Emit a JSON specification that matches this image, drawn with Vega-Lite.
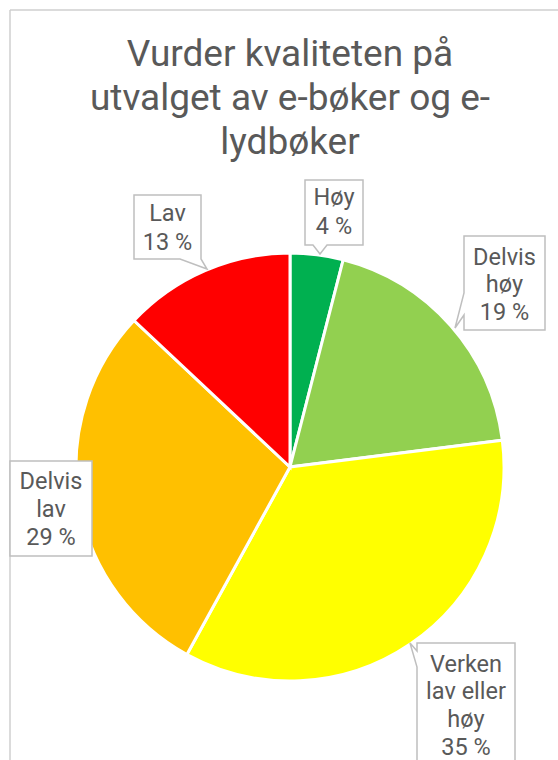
{
  "$schema": "https://vega.github.io/schema/vega-lite/v6.json",
  "autosize": "none",
  "width": 560,
  "height": 914,
  "padding": {"left": 10, "top": 10, "right": 0, "bottom": 0},
  "background": "white",
  "view": {"stroke": "#CFCFCF", "strokeWidth": 1.5, "fill": "white", "strokeDash": [560, 1474, 914, 0]},
  "config": {
    "font": "Roboto"
  },
  "title": {
    "text": ["Vurder kvaliteten på", "utvalget av e-bøker og e-", "lydbøker"],
    "font": "Roboto",
    "fontSize": 37,
    "fontWeight": "normal",
    "color": "#595959",
    "lineHeight": 44,
    "anchor": "middle",
    "frame": "group",
    "baseline": "top",
    "offset": -152
  },
  "data": {
    "values": [
      {"label": "Høy", "pct": 4, "nr": 1, "txt": "Høy\n4 %"},
      {"label": "Delvis høy", "pct": 19, "nr": 2, "txt": "Delvis\nhøy\n19 %"},
      {"label": "Verken lav eller høy", "pct": 35, "nr": 3, "txt": "Verken\nlav eller\nhøy\n35 %"},
      {"label": "Delvis lav", "pct": 29, "nr": 4, "txt": "Delvis\nlav\n29 %"},
      {"label": "Lav", "pct": 13, "nr": 5, "txt": "Lav\n13 %"}
    ]
  },
  "layer": [
    {
      "mark": {"type": "arc", "outerRadius": 214, "stroke": "white", "strokeWidth": 3},
      "encoding": {
        "theta": {"field": "pct", "type": "quantitative", "stack": true},
        "order": {"field": "nr", "type": "quantitative"},
        "color": {
          "field": "label", "type": "nominal", "legend": null,
          "scale": {
            "domain": ["Høy", "Delvis høy", "Verken lav eller høy", "Delvis lav", "Lav"],
            "range": ["#00B050", "#92D050", "#FFFF00", "#FFC000", "#FF0000"]
          }
        }
      }
    },
    {
      "mark": {"type": "point", "filled": true, "fill": "white", "stroke": "#BFBFBF", "strokeWidth": 1.5, "opacity": 1, "size": 4},
      "encoding": {
        "shape": {
          "field": "label", "type": "nominal", "legend": null,
          "scale": {
            "domain": ["Høy", "Delvis høy", "Verken lav eller høy", "Delvis lav", "Lav"],
            "range": [
              "M15,-287H73V-222H37L30,-213L23,-222H15Z",
              "M174,-231H255V-137H174V-152L165,-139L174,-174Z",
              "M127,176H225V303H127V200L120,176L127,184Z",
              "M-280,-6H-198V89H-280Z",
              "M-156,-272H-89V-208L-83,-198L-110,-208H-156Z"
            ]
          }
        }
      }
    },
    {
      "mark": {"type": "text", "radius": 260, "dx": 11.4, "dy": -10.6, "fontSize": 23.5, "lineHeight": 29, "lineBreak": "\n", "color": "#595959", "align": "center", "baseline": "middle", "font": "Roboto"},
      "encoding": {
        "theta": {"field": "pct", "type": "quantitative", "stack": true},
        "order": {"field": "nr", "type": "quantitative"},
        "text": {"condition": {"test": "datum.label === 'Høy'", "field": "txt"}, "value": ""}
      }
    },
    {
      "mark": {"type": "text", "radius": 260, "dx": 19.5, "dy": -37.1, "fontSize": 23.5, "lineHeight": 27.5, "lineBreak": "\n", "color": "#595959", "align": "center", "baseline": "middle", "font": "Roboto"},
      "encoding": {
        "theta": {"field": "pct", "type": "quantitative", "stack": true},
        "order": {"field": "nr", "type": "quantitative"},
        "text": {"condition": {"test": "datum.label === 'Delvis høy'", "field": "txt"}, "value": ""}
      }
    },
    {
      "mark": {"type": "text", "radius": 260, "dx": 29.9, "dy": -17.5, "fontSize": 23.5, "lineHeight": 27.7, "lineBreak": "\n", "color": "#595959", "align": "center", "baseline": "middle", "font": "Roboto"},
      "encoding": {
        "theta": {"field": "pct", "type": "quantitative", "stack": true},
        "order": {"field": "nr", "type": "quantitative"},
        "text": {"condition": {"test": "datum.label === 'Verken lav eller høy'", "field": "txt"}, "value": ""}
      }
    },
    {
      "mark": {"type": "text", "radius": 260, "dx": 17.8, "dy": -25.2, "fontSize": 23.5, "lineHeight": 28, "lineBreak": "\n", "color": "#595959", "align": "center", "baseline": "middle", "font": "Roboto"},
      "encoding": {
        "theta": {"field": "pct", "type": "quantitative", "stack": true},
        "order": {"field": "nr", "type": "quantitative"},
        "text": {"condition": {"test": "datum.label === 'Delvis lav'", "field": "txt"}, "value": ""}
      }
    },
    {
      "mark": {"type": "text", "radius": 260, "dx": -19.2, "dy": -14.4, "fontSize": 23.5, "lineHeight": 29, "lineBreak": "\n", "color": "#595959", "align": "center", "baseline": "middle", "font": "Roboto"},
      "encoding": {
        "theta": {"field": "pct", "type": "quantitative", "stack": true},
        "order": {"field": "nr", "type": "quantitative"},
        "text": {"condition": {"test": "datum.label === 'Lav'", "field": "txt"}, "value": ""}
      }
    }
  ]
}
